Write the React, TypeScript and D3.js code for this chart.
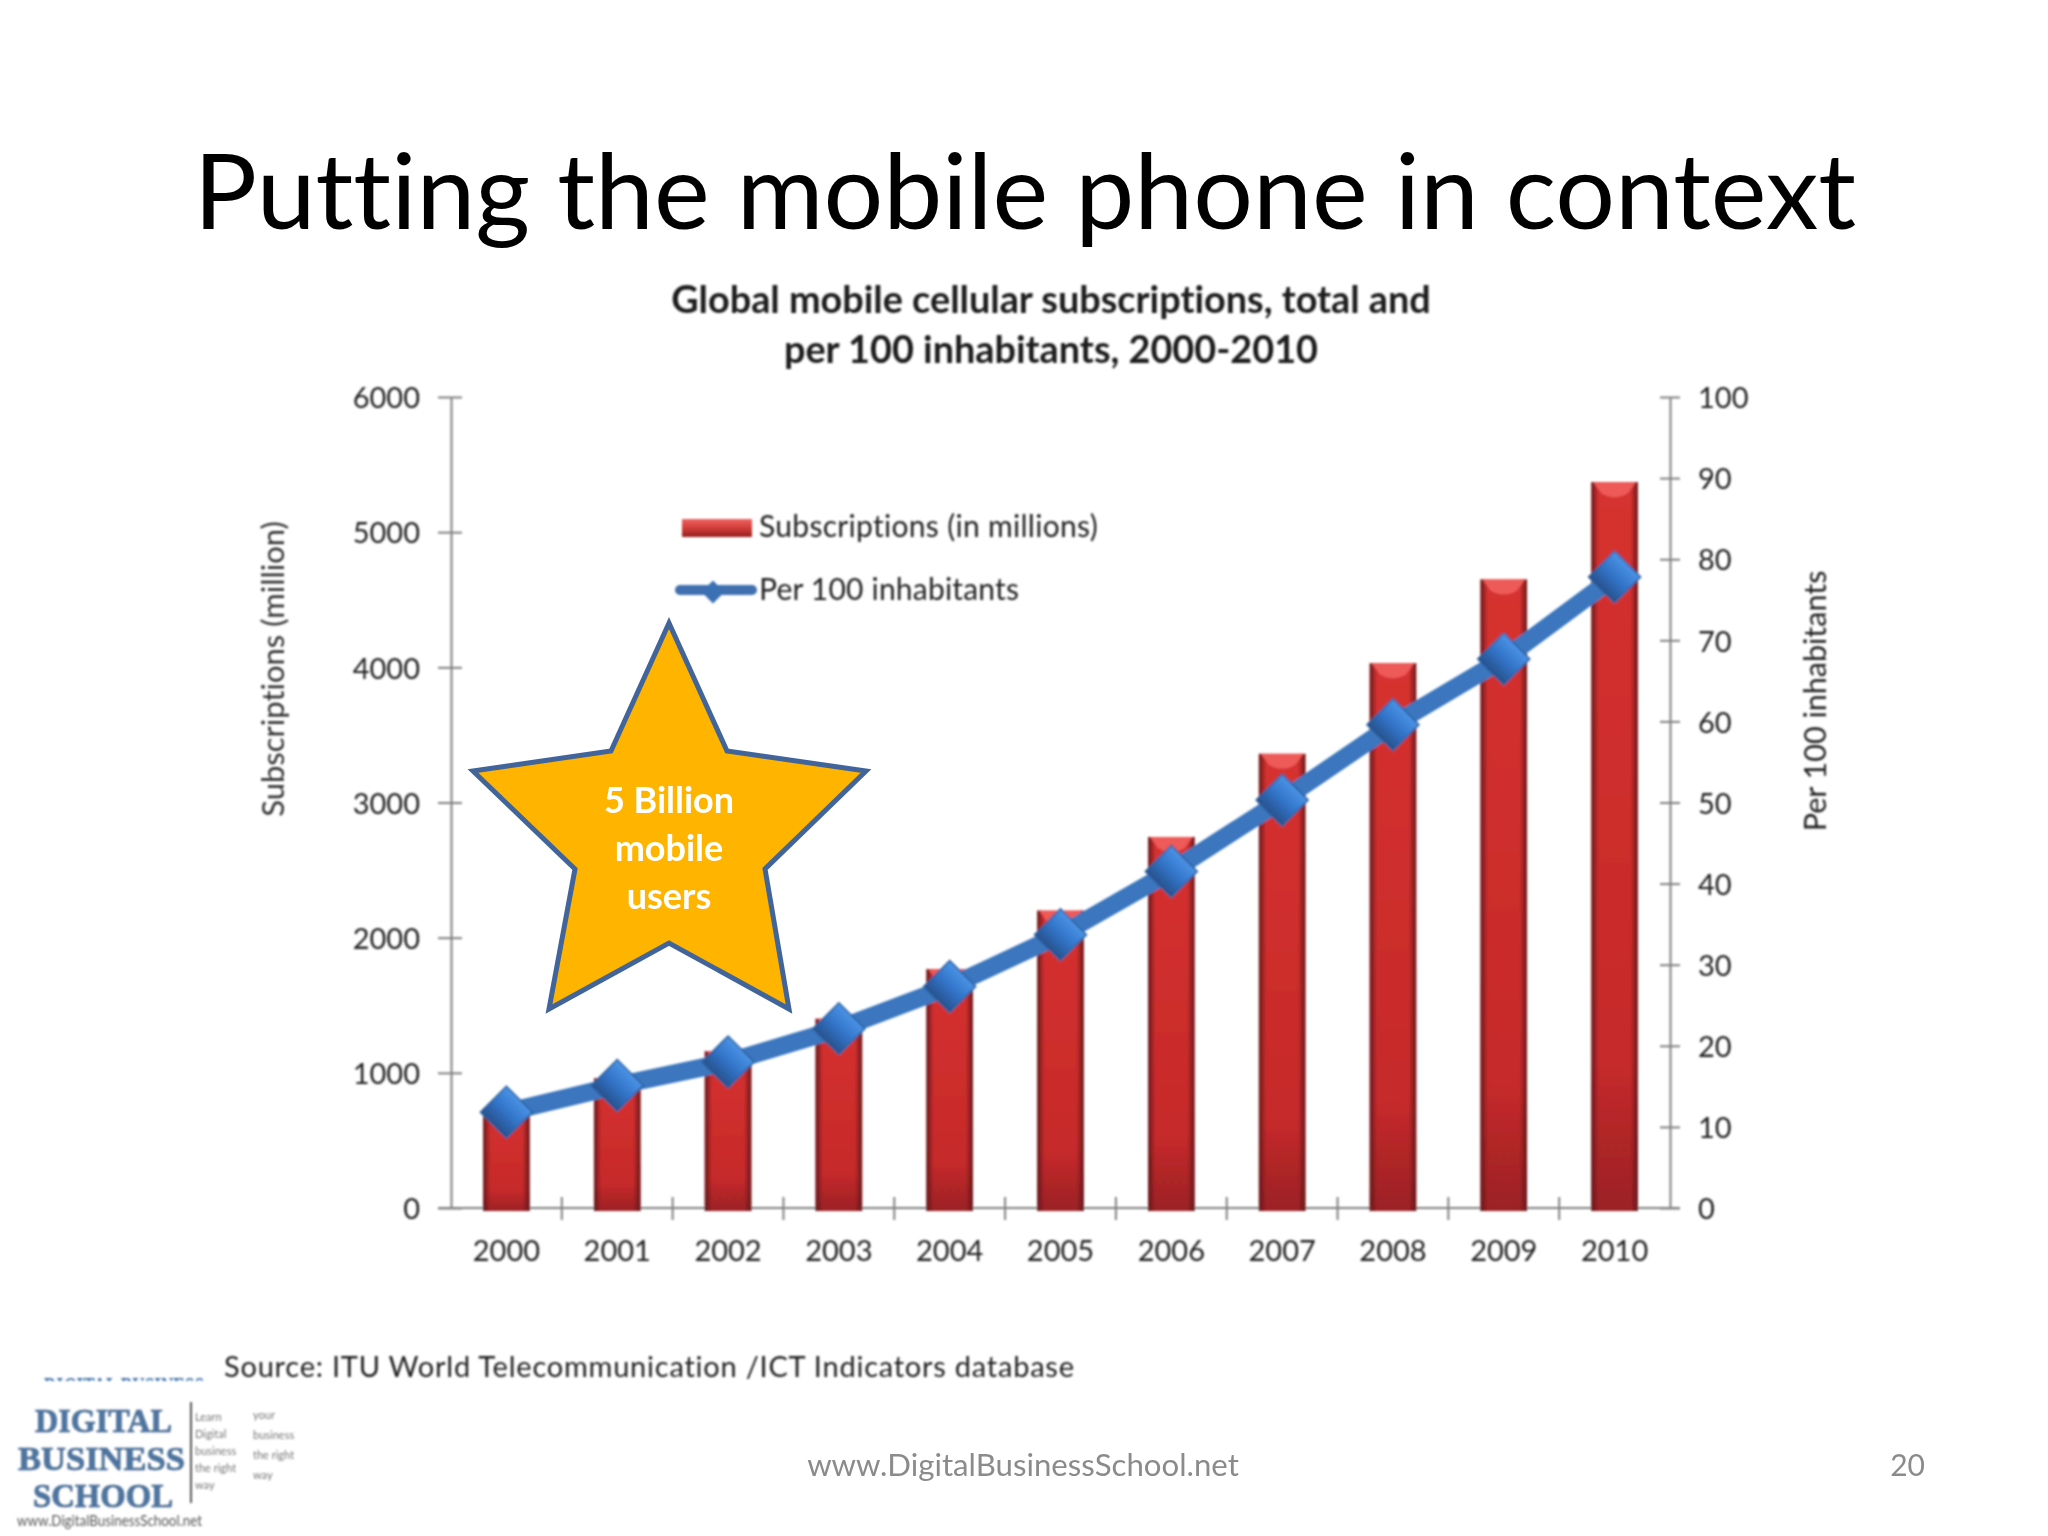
import * as d3 from "d3";
import React, { useEffect, useRef } from "react";

const years = ["2000", "2001", "2002", "2003", "2004", "2005", "2006", "2007", "2008", "2009", "2010"];
const subscriptions = [740, 960, 1160, 1400, 1767, 2200, 2745, 3360, 4030, 4650, 5370];
const per100 = [11.8, 15.1, 18, 22.1, 27.3, 33.7, 41.5, 50.3, 59.6, 67.7, 77.8];
const leftTicks = [0, 1000, 2000, 3000, 4000, 5000, 6000];
const rightTicks = [0, 10, 20, 30, 40, 50, 60, 70, 80, 90, 100];
const chartTitle = ["Global mobile cellular subscriptions, total and", "per 100 inhabitants, 2000-2010"];
const starLines = ["5 Billion", "mobile", "users"];
const logoLines = ["DIGITAL", "BUSINESS", "SCHOOL"];

const W = 2048;
const H = 1536;
const LEFT = 451;
const RIGHT = 1670;
const TOP = 397;
const BOTTOM = 1208;
const FONT = "Lato, 'Open Sans', sans-serif";
const AXIS = "#808080";
const TEXT = "#222222";

export default function App() {
  const ref = useRef<SVGSVGElement>(null);

  useEffect(() => {
    const svg = d3.select(ref.current);
    svg.selectAll("*").remove();

    const defs = svg.append("defs");
    defs.append("filter").attr("id", "soft").append("feGaussianBlur").attr("stdDeviation", 0.8);

    const barGrad = defs.append("linearGradient").attr("id", "barFill").attr("x1", 0).attr("x2", 0).attr("y1", 0).attr("y2", 1);
    barGrad.append("stop").attr("offset", "0%").attr("stop-color", "#e23432");
    barGrad.append("stop").attr("offset", "80%").attr("stop-color", "#d02c2c");
    barGrad.append("stop").attr("offset", "100%").attr("stop-color", "#a02226");

    const sideGrad = defs.append("linearGradient").attr("id", "barSide");
    sideGrad.append("stop").attr("offset", "0%").attr("stop-color", "#5f1519").attr("stop-opacity", 0.95);
    sideGrad.append("stop").attr("offset", "16%").attr("stop-color", "#6d1a1e").attr("stop-opacity", 0.1);
    sideGrad.append("stop").attr("offset", "84%").attr("stop-color", "#6d1a1e").attr("stop-opacity", 0.1);
    sideGrad.append("stop").attr("offset", "100%").attr("stop-color", "#5f1519").attr("stop-opacity", 0.95);

    const diaGrad = defs.append("linearGradient").attr("id", "diamond").attr("x1", 0).attr("x2", 0).attr("y1", 0).attr("y2", 1);
    diaGrad.append("stop").attr("offset", "0%").attr("stop-color", "#4b93e6");
    diaGrad.append("stop").attr("offset", "50%").attr("stop-color", "#3274c8");
    diaGrad.append("stop").attr("offset", "100%").attr("stop-color", "#27528c");

    const legendGrad = defs.append("linearGradient").attr("id", "legendBar").attr("x1", 0).attr("x2", 0).attr("y1", 0).attr("y2", 1);
    legendGrad.append("stop").attr("offset", "0%").attr("stop-color", "#ef6461");
    legendGrad.append("stop").attr("offset", "45%").attr("stop-color", "#d5403d");
    legendGrad.append("stop").attr("offset", "100%").attr("stop-color", "#96201f");

    defs.append("clipPath").attr("id", "strip").append("rect").attr("x", 40).attr("y", 1372).attr("width", 170).attr("height", 9);

    const x = d3.scaleBand().domain(years).range([LEFT, RIGHT]).paddingInner(0.58).paddingOuter(0.29);
    const yLeft = d3.scaleLinear().domain([0, 6000]).range([BOTTOM, TOP]);
    const yRight = d3.scaleLinear().domain([0, 100]).range([BOTTOM, TOP]);
    const cx = (d: string) => (x(d) as number) + x.bandwidth() / 2;

    // Slide title
    svg.append("text").attr("x", 1025).attr("y", 229).attr("text-anchor", "middle")
      .attr("font-family", FONT).attr("font-size", 105.5).attr("fill", "#000")
      .style("font-variant-ligatures", "none").text("Putting the mobile phone in context");

    const chart = svg.append("g").attr("filter", "url(#soft)").attr("font-family", FONT).style("font-variant-ligatures", "none");

    // Chart title
    chart.selectAll(".ctitle").data(chartTitle).join("text")
      .attr("x", 1051).attr("y", (_, i) => 313 + i * 50)
      .attr("text-anchor", "middle").attr("font-size", 37.8).attr("font-weight", 700).attr("fill", "#1c1c1c")
      .text((d) => d);

    // Axes
    const styleAxis = (g: any) => {
      g.select(".domain").attr("stroke", AXIS).attr("stroke-width", 2);
      g.selectAll("line").attr("stroke", AXIS).attr("stroke-width", 2);
      g.selectAll("text").attr("font-family", FONT).attr("font-size", 29).attr("fill", TEXT);
    };

    const gLeft = chart.append("g").attr("transform", `translate(${LEFT},0)`)
      .call(d3.axisLeft(yLeft).tickValues(leftTicks).tickFormat(d3.format("d")).tickSizeInner(13).tickSizeOuter(0).tickPadding(18));
    styleAxis(gLeft);
    gLeft.selectAll(".tick line").attr("x2", -13).attr("x1", 11);
    gLeft.selectAll(".tick text").attr("dy", "0.37em");

    const gRight = chart.append("g").attr("transform", `translate(${RIGHT},0)`)
      .call(d3.axisRight(yRight).tickValues(rightTicks).tickSizeInner(10).tickSizeOuter(0).tickPadding(28));
    styleAxis(gRight);
    gRight.selectAll(".tick line").attr("x1", -10).attr("x2", 10);
    gRight.selectAll(".tick text").attr("x", 28).attr("dy", "0.37em");

    const gBottom = chart.append("g").attr("transform", `translate(0,${BOTTOM})`)
      .call(d3.axisBottom(x).tickSize(0).tickPadding(32));
    styleAxis(gBottom);
    gBottom.select(".domain").attr("d", `M${LEFT - 13},0H${RIGHT + 10}`);

    // separators between the years
    chart.selectAll(".sep").data(years.slice(1)).join("line")
      .attr("x1", (d) => cx(d) - x.step() / 2).attr("x2", (d) => cx(d) - x.step() / 2)
      .attr("y1", BOTTOM - 11).attr("y2", BOTTOM + 12)
      .attr("stroke", AXIS).attr("stroke-width", 2);

    // Axis labels
    chart.append("text").attr("transform", "translate(284,669) rotate(-90)").attr("text-anchor", "middle")
      .attr("font-size", 31).attr("fill", "#333").text("Subscriptions (million)");
    chart.append("text").attr("transform", "translate(1826,701) rotate(-90)").attr("text-anchor", "middle")
      .attr("font-size", 30.5).attr("fill", "#222").text("Per 100 inhabitants");

    // Bars
    const bars = chart.selectAll(".bar").data(years).join("g");
    bars.append("rect").attr("x", (d) => x(d) as number).attr("width", x.bandwidth())
      .attr("y", (_, i) => yLeft(subscriptions[i])).attr("height", (_, i) => BOTTOM - yLeft(subscriptions[i]) + 3)
      .attr("fill", "url(#barFill)");
    bars.append("rect").attr("x", (d) => x(d) as number).attr("width", x.bandwidth())
      .attr("y", (_, i) => yLeft(subscriptions[i])).attr("height", (_, i) => BOTTOM - yLeft(subscriptions[i]) + 3)
      .attr("fill", "url(#barSide)");
    bars.append("path")
      .attr("d", (d, i) => {
        const l = x(d) as number;
        const t = yLeft(subscriptions[i]);
        const w = x.bandwidth();
        return `M${l + 2},${t}H${l + w - 2}L${l + w - 10},${t + 11}Q${l + w / 2},${t + 19} ${l + 10},${t + 11}Z`;
      })
      .attr("fill", "#ee5a58");

    // Line and markers
    const line = d3.line<number>().x((_, i) => cx(years[i])).y((d) => yRight(d));
    chart.append("path").datum(per100).attr("d", line).attr("fill", "none")
      .attr("stroke", "#3a76be").attr("stroke-width", 18);
    chart.selectAll(".pt").data(per100).join("path")
      .attr("d", d3.symbol(d3.symbolSquare, 1352)() as string)
      .attr("transform", (d, i) => `translate(${cx(years[i])},${yRight(d)}) rotate(45)`)
      .attr("fill", "url(#diamond)").attr("stroke", "#2c5f9f").attr("stroke-width", 1.5);

    // Legend
    const legend = chart.append("g");
    legend.append("rect").attr("x", 682).attr("y", 519).attr("width", 70).attr("height", 18).attr("fill", "url(#legendBar)");
    legend.append("text").attr("x", 759).attr("y", 537).attr("font-size", 30).attr("letter-spacing", 0.3).attr("fill", TEXT).text("Subscriptions (in millions)");
    legend.append("line").attr("x1", 680).attr("x2", 752).attr("y1", 590).attr("y2", 590)
      .attr("stroke", "#3f6fb0").attr("stroke-width", 10).attr("stroke-linecap", "round");
    legend.append("path").attr("d", d3.symbol(d3.symbolSquare, 260)() as string)
      .attr("transform", "translate(713,592) rotate(45)").attr("fill", "#3a70b5");
    legend.append("text").attr("x", 759).attr("y", 600).attr("font-size", 30).attr("letter-spacing", 0.2).attr("fill", TEXT).text("Per 100 inhabitants");

    // Source line
    chart.append("text").attr("x", 224).attr("y", 1377).attr("font-size", 29)
      .attr("textLength", 850).attr("lengthAdjust", "spacing").attr("fill", TEXT)
      .text("Source:  ITU World Telecommunication /ICT Indicators database");

    // Star callout
    svg.append("path")
      .attr("d", "M669,623L727,751L866,771L765,869L789,1009L669,943L549,1009L575,869L473,771L611,751Z")
      .attr("fill", "#ffb400").attr("stroke", "#41659a").attr("stroke-width", 5);
    svg.selectAll(".star").data(starLines).join("text")
      .attr("x", 669).attr("y", (_, i) => 813 + i * 48).attr("text-anchor", "middle")
      .attr("font-family", FONT).attr("font-size", 36).attr("font-weight", 700).attr("fill", "#fff")
      .text((d) => d);

    // Footer
    svg.append("text").attr("x", 1023).attr("y", 1476).attr("text-anchor", "middle")
      .attr("font-family", FONT).attr("font-size", 31.2).attr("fill", "#8b8b8b").text("www.DigitalBusinessSchool.net");
    svg.append("text").attr("x", 1925).attr("y", 1476).attr("text-anchor", "end")
      .attr("font-family", FONT).attr("font-size", 30).attr("fill", "#8b8b8b").text("20");

    // Logo
    const logo = svg.append("g").attr("filter", "url(#soft)");
    const serif = "'Liberation Serif', 'DejaVu Serif', serif";
    logo.append("text").attr("clip-path", "url(#strip)").attr("x", 44).attr("y", 1397)
      .attr("textLength", 160).attr("lengthAdjust", "spacingAndGlyphs")
      .attr("font-family", serif).attr("font-size", 30).attr("font-weight", 700).attr("fill", "#3a70a8")
      .text("DIGITAL BUSINESS");
    logo.selectAll(".logo").data(logoLines).join("text")
      .attr("x", (_, i) => [35, 18, 33][i]).attr("y", (_, i) => [1432, 1470, 1507][i])
      .attr("textLength", (_, i) => [137, 167, 140][i]).attr("lengthAdjust", "spacingAndGlyphs")
      .attr("font-family", serif).attr("font-size", 34).attr("font-weight", 700)
      .attr("fill", "#4d76a3").attr("stroke", "#2f4f75").attr("stroke-width", 0.6)
      .text((d) => d);
    logo.append("text").attr("x", 17).attr("y", 1526).attr("textLength", 185).attr("lengthAdjust", "spacingAndGlyphs")
      .attr("font-family", FONT).attr("font-size", 15).attr("fill", "#555").text("www.DigitalBusinessSchool.net");
    logo.append("line").attr("x1", 191).attr("x2", 191).attr("y1", 1402).attr("y2", 1503).attr("stroke", "#555").attr("stroke-width", 2);
    logo.selectAll(".small1").data(["Learn", "Digital", "business", "the right", "way"]).join("text")
      .attr("x", 195).attr("y", (_, i) => 1421 + i * 17).attr("font-family", FONT).attr("font-size", 11).attr("fill", "#777").text((d) => d);
    logo.selectAll(".small2").data(["your", "business", "the right", "way"]).join("text")
      .attr("x", 253).attr("y", (_, i) => 1419 + i * 20).attr("font-family", FONT).attr("font-size", 11).attr("fill", "#777").text((d) => d);
  }, []);

  return (
    <svg
      ref={ref}
      width={W}
      height={H}
      viewBox={`0 0 ${W} ${H}`}
      style={{ position: "absolute", left: 0, top: 0, background: "#fff" }}
    />
  );
}
